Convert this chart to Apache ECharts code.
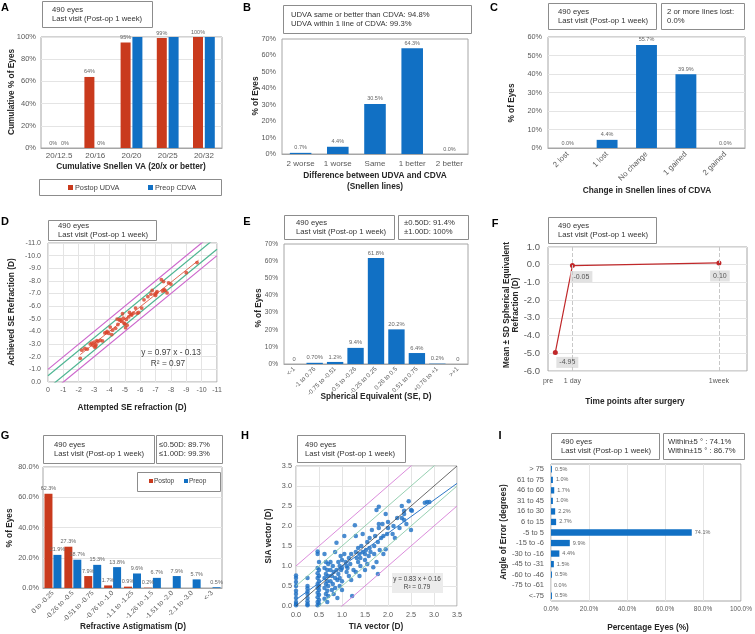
<!DOCTYPE html>
<html><head><meta charset="utf-8">
<script src="https://cdn.jsdelivr.net/npm/echarts@6/dist/echarts.min.js"></script>
<style>html,body{margin:0;padding:0;background:#fff}#c{width:755px;height:634px}</style>
</head><body><div id="c"></div>
<script>
// ---------------- DATA ----------------
// A
const aCats = ['20/12.5','20/16','20/20','20/25','20/32'];
const aPostopUDVA = [0,64,95,99,100];
const aPreopCDVA = [0,0,100,100,100];
// B
const bCats = ['2 worse','1 worse','Same','1 better','2 better'];
const bValues = [0.7,4.4,30.5,64.3,0.0];
// C
const cCats = ['2 lost','1 lost','No change','1 gained','2 gained'];
const cValues = [0.0,4.4,55.7,39.9,0.0];
// D  [attempted, achieved]
const dPoints = [[-2.10,-1.87],[-2.20,-2.52],[-2.40,-2.65],[-2.55,-2.60],[-2.75,-3.00],[-2.85,-3.08],[-2.92,-2.90],[-3.00,-3.15],[-3.05,-2.75],[-3.12,-2.95],[-3.18,-3.28],[-3.25,-3.20],[-3.40,-3.30],[-3.10,-2.85],[-3.55,-3.25],[-3.70,-3.88],[-3.80,-3.90],[-3.85,-4.00],[-3.95,-3.85],[-4.05,-4.35],[-4.15,-3.75],[-4.20,-4.10],[-4.40,-4.25],[-4.50,-4.98],[-4.55,-4.55],[-4.65,-4.90],[-4.70,-4.95],[-4.80,-4.80],[-4.85,-5.40],[-4.90,-5.05],[-4.95,-4.65],[-5.00,-4.60],[-5.05,-4.30],[-5.10,-4.95],[-5.15,-4.50],[-5.25,-5.15],[-5.30,-5.50],[-5.40,-5.35],[-5.45,-5.30],[-5.55,-5.45],[-5.70,-5.85],[-5.80,-5.45],[-5.90,-5.50],[-6.10,-5.85],[-6.25,-6.50],[-6.50,-6.75],[-6.70,-6.95],[-6.78,-7.25],[-6.95,-6.95],[-7.05,-7.05],[-7.10,-7.15],[-7.00,-6.85],[-7.38,-8.10],[-7.45,-7.20],[-7.52,-7.95],[-7.55,-7.30],[-7.62,-7.25],[-7.75,-7.05],[-7.85,-7.85],[-8.00,-7.75],[-9.00,-8.65],[-9.70,-9.45]];
const dFitCoef = [0.97,-0.13];
const dFitRange = [-2.1,-9.8];
const dBandOffsets = [0.5,1.0];
// E
const eCats = ['<-1','-1 to 0.76','-0.75 to -0.51','-0.5 to -0.26','-0.25 to 0.25','0.26 to 0.5','0.51 to 0.75','+0.76 to +1','>+1'];
const eValues = [0,0.7,1.2,9.4,61.8,20.2,6.4,0.2,0];
const eLabels = ['0','0.70%','1.2%','9.4%','61.8%','20.2%','6.4%','0.2%','0'];
// F
const fTickNames = ['pre','1 day','1week'];
const fTickPos = [0,1,7];
const fX = [0.3,1,7];
const fMeans = [-4.95,-0.05,0.10];
// G
const gCats = ['0 to -0.25','-0.26 to -0.5','-0.51 to -0.75','-0.76 to -1.0','-1.1 to -1.25','-1.26 to -1.5','-1.51 to -2.0','-2.1 to -3.0','<-3'];
const gPostop = [62.3,27.3,7.9,1.7,0.9,0.2,0,0,0];
const gPreop = [21.9,18.7,15.3,13.8,9.6,6.7,7.9,5.7,0.5];
// H  [TIA, SIA]
const hPoints = [[0,0.76],[0,0.7],[0,0.6],[0,0.5],[0,0.38],[0,0.3],[0,0.2],[0,0.1],[0,0.05],[0,0.02],
[0.25,0.7],[0.25,0.5],[0.25,0.44],[0.25,0.36],[0.25,0.3],[0.25,0.2],[0.25,0.12],[0.25,0.05],[0.25,0.02],
[0.47,1.36],[0.47,1.3],[0.5,1.1],[0.47,0.95],[0.5,0.9],[0.47,0.82],[0.5,0.75],[0.47,0.7],[0.5,0.62],[0.47,0.55],[0.5,0.5],[0.47,0.45],[0.5,0.4],[0.47,0.33],[0.5,0.28],[0.47,0.22],[0.5,0.15],[0.47,0.1],[0.5,0.05],[0.47,0.02],
[0.62,1.3],[0.65,1.1],[0.7,1.05],[0.62,0.95],[0.68,0.9],[0.65,0.8],[0.7,0.75],[0.62,0.7],[0.68,0.62],[0.65,0.55],[0.7,0.5],[0.62,0.45],[0.68,0.38],[0.65,0.3],[0.7,0.25],[0.62,0.18],[0.68,0.1],
[0.75,1.1],[0.8,1.0],[0.85,1.35],[0.75,0.9],[0.82,0.85],[0.78,0.75],[0.85,0.7],[0.75,0.62],[0.8,0.55],[0.85,0.45],[0.78,0.4],[0.82,0.3],[0.88,1.58],[0.9,0.2],[0.88,0.9],[0.9,0.65],
[0.92,1.1],[0.95,1.0],[0.98,0.9],[0.92,0.8],[0.95,0.7],[1.0,0.95],[1.0,1.15],[0.97,1.25],[1.0,0.62],[0.95,0.5],[1.0,0.4],
[1.05,1.75],[1.05,1.3],[1.08,1.1],[1.1,1.0],[1.12,0.95],[1.15,1.2],[1.1,0.85],[1.15,0.75],[1.2,0.65],[1.18,1.05],[1.2,1.3],[1.22,0.25],[1.25,0.9],
[1.28,2.02],[1.3,1.75],[1.3,1.35],[1.32,1.2],[1.35,1.1],[1.35,1.45],[1.38,1.3],[1.4,1.0],[1.4,1.2],[1.3,0.85],[1.38,0.75],[1.42,1.5],[1.45,1.35],
[1.5,1.3],[1.5,1.15],[1.55,1.6],[1.52,1.4],[1.55,1.05],[1.58,1.25],[1.6,1.45],[1.6,1.7],[1.62,1.35],[1.45,1.8],[1.5,0.9],
[1.65,1.9],[1.7,1.5],[1.7,1.3],[1.72,1.75],[1.75,2.4],[1.75,1.1],[1.78,1.6],[1.8,2.48],[1.8,1.95],[1.8,2.05],[1.68,0.97],[1.82,1.4],[1.85,1.7],[1.78,0.8],
[1.88,2.05],[1.9,1.75],[1.9,1.3],[1.95,1.42],[1.95,2.3],[1.98,1.8],[2.0,1.95],[2.0,2.1],
[2.1,1.8],[2.12,2.0],[2.15,1.7],[2.2,2.2],[2.25,1.95],[2.3,2.5],[2.3,2.2],[2.35,2.3],
[2.35,2.15],[2.35,2.38],[2.4,2.05],[2.45,2.62],[2.5,2.4],[2.52,2.38],[2.5,1.9],
[2.8,2.58],[2.85,2.6],[2.9,2.6]];
const hFitCoef = [0.83,0.16];
const hBandOffsets = [0.5,1.0];
// I
const iCats = ['> 75','61 to 75','46 to 60','31 to 45','16 to 30','6 to 15','-5 to 5','-15 to -6','-30 to -16','-45 to -31','-60 to -46','-75 to -61','<-75'];
const iValues = [0.5,1.0,1.7,1.0,2.2,2.7,74.1,9.9,4.4,1.5,0.5,0.0,0.5];

// ---------------- STYLE ----------------
const FONT = '"Liberation Sans", Arial, sans-serif';
const RED = '#C93A1D', BLUE = '#1170C4';
const TICK = '#595959', TITLE = '#262626', GRIDC = '#E4E4E4', BORDER = '#A6A6A6';
const MAG = '#CC66CC', GRN = '#4DB592';

const grids = [
 {left:41, top:37, width:181, height:111},
 {left:282, top:39, width:186, height:115},
 {left:548, top:37, width:197, height:111},
 {left:48, top:243, width:169, height:139},
 {left:284, top:244, width:184, height:120},
 {left:548, top:247, width:199, height:124},
 {left:43, top:467, width:179, height:121},
 {left:296, top:466, width:161, height:140},
 {left:551, top:464, width:194, height:137}
].map(g => Object.assign({show:true, borderColor:BORDER, borderWidth:1, backgroundColor:'transparent'}, g));

function catAxis(gi, data, lab) {
  return {type:'category', gridIndex:gi, data, axisTick:{show:false},
    axisLine:{show:true, lineStyle:{color:BORDER}},
    axisLabel:Object.assign({interval:0, fontSize:8, color:TICK, fontFamily:FONT, margin:5}, lab||{}),
    splitLine:{show:false}};
}
function valAxis(gi, min, max, interval, fmt, o) {
  o = o || {};
  return {type:'value', gridIndex:gi, min, max, interval, inverse:!!o.inverse,
    axisLine:{show:false}, axisTick:{show:false},
    axisLabel:{fontSize:o.fs||7.5, color:TICK, fontFamily:FONT, formatter:fmt, margin:o.margin||5, showMaxLabel:o.showMax!==false},
    splitLine:{show:o.grid!==false, lineStyle:{color:GRIDC, width:1}}};
}
const pct0 = v => v + '%';
const fix1 = v => v.toFixed(1);

const xAxis = [
  catAxis(0, aCats, {fontSize:8, margin:4}),
  catAxis(1, bCats, {fontSize:8, margin:6}),
  catAxis(2, cCats, {fontSize:7.8, rotate:45, margin:5}),
  valAxis(3, -11, 0, 1, v => String(v), {inverse:true, fs:7, margin:5}),
  catAxis(4, eCats, {fontSize:6.3, rotate:45, margin:4}),
  valAxis(5, 0, 8.15, 1, v => { const k = fTickPos.indexOf(v); return k >= 0 ? fTickNames[k] : ''; }, {grid:false, fs:7, margin:7, showMax:false}),
  catAxis(6, gCats, {fontSize:6.8, rotate:45, margin:4}),
  valAxis(7, 0, 3.5, 0.5, fix1, {fs:7.3, margin:5}),
  valAxis(8, 0, 100, 20, v => v.toFixed(1) + '%', {fs:6.5, margin:5})
];
const yAxis = [
  valAxis(0, 0, 100, 20, pct0, {fs:7.5, margin:5}),
  valAxis(1, 0, 70, 10, pct0, {fs:7.3, margin:6, grid:false}),
  valAxis(2, 0, 60, 10, pct0, {fs:7.3, margin:6}),
  valAxis(3, -11, 0, 1, fix1, {inverse:true, fs:7, margin:7}),
  valAxis(4, 0, 70, 10, pct0, {fs:6.6, margin:6, grid:false}),
  valAxis(5, -6, 1, 1, fix1, {fs:9.5, margin:8}),
  valAxis(6, 0, 80, 20, v => v.toFixed(1) + '%', {fs:7.3, margin:4}),
  valAxis(7, 0, 3.5, 0.5, fix1, {fs:7.3, margin:4}),
  Object.assign(catAxis(8, iCats, {fontSize:7.5, margin:7}), {inverse:true, axisLine:{show:false}})
];

const lab = (o) => Object.assign({show:true, position:'top', fontSize:5.5, color:'#666', fontFamily:FONT, distance:2}, o||{});

function refLine(xi, x0, x1, slope, intercept, color, width, z) {
  return {type:'line', xAxisIndex:xi, yAxisIndex:xi, data:[[x0, slope*x0+intercept],[x1, slope*x1+intercept]],
    showSymbol:false, symbol:'none', clip:true, silent:true, z:z||2, animation:false,
    lineStyle:{color, width}};
}

const series = [];
// A
series.push({type:'bar', name:'Postop UDVA', xAxisIndex:0, yAxisIndex:0, data:aPostopUDVA, barWidth:10, barGap:'18%',
  itemStyle:{color:RED}, label:lab({formatter:p => p.value + '%'})});
series.push({type:'bar', name:'Preop CDVA', xAxisIndex:0, yAxisIndex:0, data:aPreopCDVA, barWidth:10,
  itemStyle:{color:BLUE}, label:lab({formatter:p => p.value === 0 ? '0%' : ''})});
// B
series.push({type:'bar', xAxisIndex:1, yAxisIndex:1, data:bValues, barWidth:'58%', itemStyle:{color:BLUE},
  label:lab({formatter:p => p.value.toFixed(1) + '%'})});
// C
series.push({type:'bar', xAxisIndex:2, yAxisIndex:2, data:cValues, barWidth:'53%', itemStyle:{color:BLUE},
  label:lab({formatter:p => p.value.toFixed(1) + '%'})});
// D
dBandOffsets.forEach(off => {
  const col = off === 1 ? MAG : GRN;
  series.push(refLine(3, 0, -11, 1, -off, col, 1.2));
  series.push(refLine(3, 0, -11, 1, off, col, 1.2));
});
series.push(refLine(3, dFitRange[0], dFitRange[1], dFitCoef[0], dFitCoef[1], '#D9442A', 0.8, 4));
series.push({type:'scatter', xAxisIndex:3, yAxisIndex:3, data:dPoints, symbolSize:3.8, itemStyle:{color:'#D9442A'}, z:5});
// E
series.push({type:'bar', xAxisIndex:4, yAxisIndex:4, data:eValues, barWidth:'80%', itemStyle:{color:BLUE},
  label:lab({formatter:p => eLabels[p.dataIndex], fontSize:5.8})});
// F
series.push({type:'line', xAxisIndex:5, yAxisIndex:5, data:fX.map((x, i) => [x, fMeans[i]]),
  symbol:'circle', symbolSize:5, itemStyle:{color:'#C0282A'}, lineStyle:{color:'#C0282A', width:1.2},
  label:{show:true, fontSize:7, color:'#555', fontFamily:FONT, backgroundColor:'#E2E2E2', padding:[2,3],
    formatter:p => fMeans[p.dataIndex].toFixed(2), position:'inside'},
  labelLayout: p => { const offs = [[12,10],[9,11],[1,13]][p.dataIndex]; return {x:p.rect.x + p.rect.width/2 + offs[0] - p.labelRect.width/2, y:p.rect.y + p.rect.height/2 + offs[1] - p.labelRect.height/2}; },
  markLine:{silent:true, symbol:'none', label:{show:false}, lineStyle:{color:'#C8C8C8', type:'dashed', width:1},
    data:fTickPos.slice(1).map(v => ({xAxis:v}))}});
// G
series.push({type:'bar', name:'Postop', xAxisIndex:6, yAxisIndex:6, data:gPostop, barWidth:8, barGap:'12%', itemStyle:{color:RED},
  label:lab({formatter:p => p.value > 0 ? p.value.toFixed(1) + '%' : ''})});
series.push({type:'bar', name:'Preop', xAxisIndex:6, yAxisIndex:6, data:gPreop, barWidth:8, itemStyle:{color:BLUE},
  label:lab({formatter:p => p.value.toFixed(1) + '%'})});
// H
series.push({type:'scatter', xAxisIndex:7, yAxisIndex:7, data:hPoints, symbolSize:4.5, itemStyle:{color:'#1D6FC4'}, z:3});
hBandOffsets.forEach(off => {
  const col = off === 1 ? '#D77FD7' : '#8ACBA8';
  series.push(refLine(7, 0, 3.5, 1, -off, col, 0.9, 4));
  series.push(refLine(7, 0, 3.5, 1, off, col, 0.9, 4));
});
series.push(refLine(7, 0, 3.5, 1, 0, '#444', 0.8, 4));
series.push(refLine(7, 0, 3.5, hFitCoef[0], hFitCoef[1], '#2E78C6', 1, 4));
// I
series.push({type:'bar', xAxisIndex:8, yAxisIndex:8, data:iValues, barWidth:'60%', itemStyle:{color:BLUE},
  label:lab({position:'right', distance:3, formatter:p => p.value.toFixed(1) + '%'})});

// ---------------- GRAPHICS ----------------
const G = [];
function txt(x, y, text, o) {
  o = o || {};
  G.push({type:'text', x, y, rotation:o.rot||0, z:100, silent:true,
    style:{text, x:0, y:0, fill:o.color||TITLE, fontSize:o.fs||8.3, fontWeight:o.fw||'normal', fontFamily:o.ff||FONT,
      align:o.align||'center', verticalAlign:'middle', lineHeight:o.lh||10}});
}
function box(x, y, w, h, text, pad, o) {
  o = o || {};
  G.push({type:'rect', z:90, silent:true, shape:{x:x+0.5, y:y+0.5, width:w, height:h},
    style:{fill:o.fill||'#fff', stroke:o.noStroke ? null : '#8C8C8C', lineWidth:1}});
  txt(x + pad, y + h/2 + 0.5, text, {align:o.align||'left', fs:o.fs||7.7, color:'#333', lh:o.lh||9.2, fw:'normal'});
}
const ROT = Math.PI/2;
const TB = {fw:'bold', fs:8.3};
// panel letters
[['A',5,8],['B',247,8],['C',494,8],['D',5,222],['E',247,222],['F',495,224],['G',5,436],['H',245,436],['I',500,436]]
  .forEach(([t,x,y]) => txt(x, y, t, {fw:'bold', fs:11, color:'#000'}));
// A
box(42, 1, 110, 26, '490 eyes\nLast visit (Post-op 1 week)', 10);
txt(12, 92, 'Cumulative % of Eyes', Object.assign({rot:ROT}, TB));
txt(131, 167, 'Cumulative Snellen VA (20/x or better)', TB);
G.push({type:'rect', z:90, silent:true, shape:{x:39.5, y:179.5, width:182, height:16}, style:{fill:'#fff', stroke:'#8C8C8C', lineWidth:1}});
G.push({type:'rect', z:95, silent:true, shape:{x:68, y:185, width:5, height:5}, style:{fill:RED}});
txt(75, 187.5, 'Postop UDVA', {align:'left', fs:7.3, color:'#404040'});
G.push({type:'rect', z:95, silent:true, shape:{x:148, y:185, width:5, height:5}, style:{fill:BLUE}});
txt(155, 187.5, 'Preop CDVA', {align:'left', fs:7.3, color:'#404040'});
// B
box(283, 5, 188, 28, 'UDVA same or better than CDVA: 94.8%\nUDVA within 1 line of CDVA: 99.3%', 8);
txt(256, 96, '% of Eyes', Object.assign({rot:ROT}, TB));
txt(375, 176, 'Difference between UDVA and CDVA', TB);
txt(375, 187, '(Snellen lines)', TB);
// C
box(548, 3, 108, 26, '490 eyes\nLast visit (Post-op 1 week)', 10);
box(661, 3, 83, 26, '2 or more lines lost:\n0.0%', 6);
txt(512, 103, '% of Eyes', Object.assign({rot:ROT}, TB));
txt(647, 191, 'Change in Snellen lines of CDVA', TB);
// D
box(48, 220, 108, 20, '490 eyes\nLast visit (Post-op 1 week)', 10);
txt(12, 312, 'Achieved SE Refraction (D)', Object.assign({rot:ROT}, TB));
txt(132, 408, 'Attempted SE refraction (D)', TB);
txt(171, 353, 'y = 0.97 x - 0.13', {fs:8.3, color:'#404040'});
txt(168, 364, 'R² = 0.97', {fs:8.3, color:'#404040'});
// E
box(284, 215, 110, 24, '490 eyes\nLast visit (Post-op 1 week)', 12);
box(398, 215, 70, 24, '±0.50D: 91.4%\n±1.00D: 100%', 6);
txt(259, 308, '% of Eyes', Object.assign({rot:ROT}, TB));
txt(376, 397, 'Spherical Equivalent (SE, D)', TB);
// F
box(548, 217, 108, 26, '490 eyes\nLast visit (Post-op 1 week)', 10);
txt(511, 305, 'Mean ± SD Spherical Equivalent\nRefraction (D)', Object.assign({rot:ROT, lh:9.5}, TB));
txt(635, 402, 'Time points after surgery', TB);
// G
box(43, 435, 111, 28, '490 eyes\nLast visit (Post-op 1 week)', 11);
box(156, 435, 66, 28, '≤0.50D: 89.7%\n≤1.00D: 99.3%', 3);
G.push({type:'rect', z:90, silent:true, shape:{x:137.5, y:472.5, width:83, height:19}, style:{fill:'#fff', stroke:'#8C8C8C', lineWidth:1}});
G.push({type:'rect', z:95, silent:true, shape:{x:149, y:479, width:4, height:4}, style:{fill:RED}});
txt(154, 481.5, 'Postop', {align:'left', fs:6.5, color:'#404040'});
G.push({type:'rect', z:95, silent:true, shape:{x:184, y:479, width:4, height:4}, style:{fill:BLUE}});
txt(189, 481.5, 'Preop', {align:'left', fs:6.5, color:'#404040'});
txt(10, 528, '% of Eyes', Object.assign({rot:ROT}, TB));
txt(133, 627, 'Refractive Astigmatism (D)', TB);
// H
box(297, 435, 108, 27, '490 eyes\nLast visit (Post-op 1 week)', 8);
txt(269, 536, 'SIA vector (D)', Object.assign({rot:ROT}, TB));
txt(376, 627, 'TIA vector (D)', TB);
G.push({type:'rect', z:90, silent:true, shape:{x:392, y:573, width:51, height:20}, style:{fill:'#ECECEC'}});
txt(417, 579, 'y = 0.83 x + 0.16', {fs:6.4, color:'#404040'});
txt(417, 587.5, 'R² = 0.79', {fs:6.4, color:'#404040'});
// I
box(551, 433, 108, 26, '490 eyes\nLast visit (Post-op 1 week)', 10);
box(663, 433, 81, 26, 'Within±5 ° : 74.1%\nWithin±15 ° : 86.7%', 5);
txt(504, 532, 'Angle of Error (degrees)', Object.assign({rot:ROT}, TB));
txt(648, 628, 'Percentage Eyes (%)', TB);

const chart = echarts.init(document.getElementById('c'), null, {renderer:'canvas', width:755, height:634});
chart.setOption({
  backgroundColor:'#fff',
  animation:false,
  textStyle:{fontFamily:FONT},
  grid:grids, xAxis, yAxis, series, graphic:G
});
</script></body></html>
